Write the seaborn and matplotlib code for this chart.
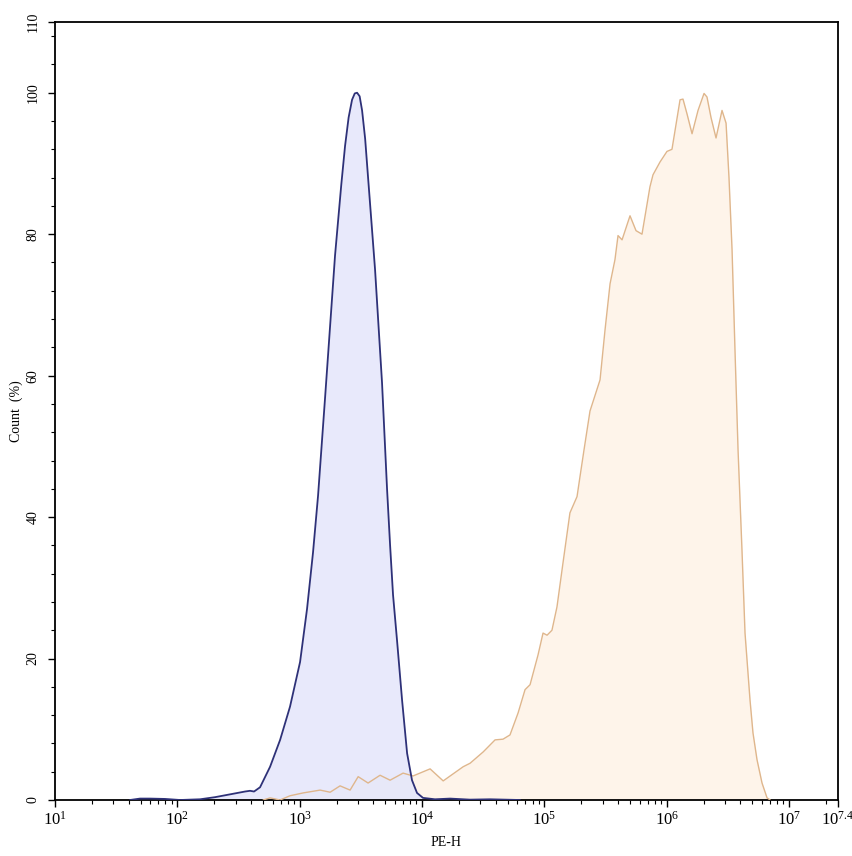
import numpy as np
import pandas as pd
import matplotlib
matplotlib.use("Agg")
import matplotlib.pyplot as plt
from matplotlib.ticker import FixedLocator, LogLocator, NullFormatter
import seaborn as sns

# ---- data (x as log10 of PE-H, y as Count %) ----
blue_log_pe = [1.613, 1.695, 1.777, 1.899, 2.022, 2.186, 2.308, 2.431, 2.554, 2.594,
               2.627, 2.676, 2.758, 2.840, 2.921, 3.003, 3.060, 3.109, 3.150, 3.208,
               3.289, 3.340, 3.371, 3.400, 3.428, 3.450, 3.469, 3.490, 3.510, 3.535,
               3.559, 3.616, 3.673, 3.714, 3.739, 3.763,
               3.796, 3.837, 3.878, 3.918, 3.959, 4.008, 4.106, 4.229, 4.392, 4.556, 4.801]
blue_count = [0, 0.2, 0.2, 0.15, 0, 0.1, 0.4, 0.8, 1.2, 1.3,
              1.2, 1.8, 4.7, 8.5, 13.2, 19.5, 27, 35, 43, 57,
              77, 87, 92.5, 96.5, 99, 99.9, 100, 99.5, 97.5, 93.5,
              88, 75, 59, 44, 36, 29,
              22.5, 14.1, 6.6, 2.8, 1.0, 0.3, 0.1, 0.2, 0.05, 0.1, 0]

orange_log_pe = [2.701, 2.758, 2.840, 2.921, 3.028, 3.167, 3.249, 3.330, 3.412, 3.478,
                 3.559, 3.657, 3.739, 3.845, 3.927, 4.066, 4.173, 4.336, 4.393, 4.500,
                 4.597, 4.662, 4.719, 4.785, 4.842, 4.883, 4.948, 4.989, 5.022, 5.062,
                 5.103, 5.152, 5.209, 5.267, 5.291, 5.324, 5.373, 5.455, 5.496, 5.537,
                 5.577, 5.602, 5.635, 5.700, 5.749, 5.798, 5.863, 5.888, 5.945, 6.002,
                 6.043, 6.076, 6.109, 6.133, 6.166, 6.207, 6.256, 6.305, 6.329, 6.362,
                 6.403, 6.452, 6.485, 6.509, 6.534, 6.558, 6.583, 6.615, 6.640, 6.681,
                 6.705, 6.738, 6.779, 6.820, 6.846]
orange_count = [0, 0.3, 0, 0.6, 1.0, 1.4, 1.1, 2.0, 1.4, 3.3,
                2.4, 3.5, 2.8, 3.8, 3.4, 4.4, 2.7, 4.7, 5.2, 6.8,
                8.5, 8.6, 9.2, 12.3, 15.6, 16.3, 20.5, 23.6, 23.3, 24,
                27.3, 33.5, 40.6, 42.9, 45.7, 49.5, 55, 59.4, 66.5, 73,
                76.4, 79.8, 79.2, 82.6, 80.5, 80, 86.7, 88.4, 90.2, 91.7,
                92, 95.5, 99, 99.1, 97, 94.2, 97.5, 99.9, 99.4, 96.5,
                93.6, 97.5, 95.7, 88, 77.8, 63.6, 49.5, 35.4, 23.6, 14.1,
                9.5, 5.7, 2.4, 0.3, 0]

x_exponents = [1, 2, 3, 4, 5, 6, 7, 7.4]
x_tick_labels = [r"$10^{1}$", r"$10^{2}$", r"$10^{3}$", r"$10^{4}$",
                 r"$10^{5}$", r"$10^{6}$", r"$10^{7}$", r"$10^{7.4}$"]
y_ticks = [0, 20, 40, 60, 80, 100, 110]

# ---- build frames ----
blue_df = pd.DataFrame({"PE-H": np.power(10.0, blue_log_pe), "Count": blue_count})
orange_df = pd.DataFrame({"PE-H": np.power(10.0, orange_log_pe), "Count": orange_count})

sns.set_theme(style="ticks")
plt.rcParams["font.family"] = ["Liberation Serif", "DejaVu Serif"]
plt.rcParams["mathtext.fontset"] = "custom"
plt.rcParams["mathtext.rm"] = "Liberation Serif"
plt.rcParams["mathtext.it"] = "Liberation Serif"

fig = plt.figure(figsize=(8.53, 8.56), dpi=100)
ax = fig.add_axes([55 / 853, 56 / 856, 783 / 853, 778 / 856])

blue_line = "#2e3178"
blue_fill = "#e4e6fb"
orange_line = "#dfb68c"
orange_fill = "#fef4ea"

ax.fill_between(orange_df["PE-H"], orange_df["Count"], color=orange_fill, lw=0, zorder=1)
ax.fill_between(blue_df["PE-H"], blue_df["Count"], color=blue_fill, alpha=0.85, lw=0, zorder=2)
sns.lineplot(data=orange_df, x="PE-H", y="Count", ax=ax, color=orange_line,
             lw=1.0, estimator=None, sort=False, zorder=3)
sns.lineplot(data=blue_df, x="PE-H", y="Count", ax=ax, color=blue_line,
             lw=1.3, estimator=None, sort=False, zorder=4)

ax.set_xscale("log")
ax.set_xlim(10 ** 1, 10 ** 7.4)
ax.set_ylim(0, 110)

ax.xaxis.set_major_locator(FixedLocator([10 ** e for e in x_exponents]))
ax.set_xticklabels(x_tick_labels)
ax.xaxis.set_minor_locator(LogLocator(base=10, subs=np.arange(2, 10), numticks=20))
ax.xaxis.set_minor_formatter(NullFormatter())

ax.yaxis.set_major_locator(FixedLocator(y_ticks))
ax.set_yticklabels([str(v) for v in y_ticks], rotation=90, va="center")
ax.yaxis.set_minor_locator(FixedLocator(list(range(0, 110, 4))))

ax.tick_params(axis="both", which="major", direction="out", length=5, width=1.0,
               color="black", labelcolor="black")
ax.tick_params(axis="both", which="minor", direction="out", length=3, width=0.8, color="black")
ax.tick_params(axis="y", which="major", pad=6, labelsize=10)
ax.tick_params(axis="x", which="major", pad=3, labelsize=12)

for s in ax.spines.values():
    s.set_visible(True)
    s.set_color("black")
    s.set_linewidth(1.3)

ax.set_xlabel("PE-H", fontsize=10, labelpad=5, color="black")
ax.set_ylabel("Count  (%)", fontsize=10, labelpad=3, color="black")
ax.set_facecolor("white")
fig.patch.set_facecolor("white")

fig.savefig("out.png", dpi=100, facecolor="white")
